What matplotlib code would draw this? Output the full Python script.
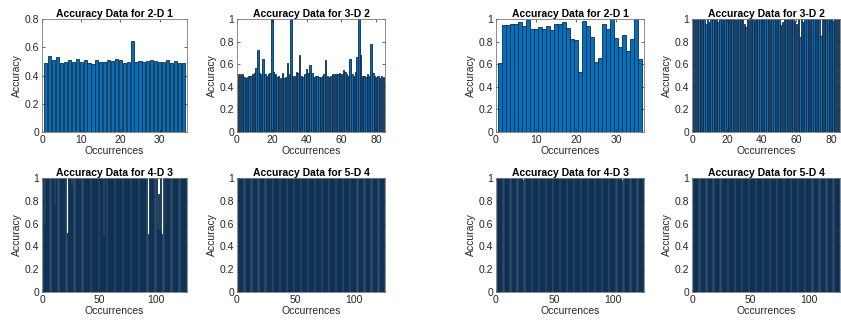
import numpy as np
import matplotlib
matplotlib.use("Agg")
import matplotlib.pyplot as plt

plt.rcParams['font.family'] = ['Liberation Sans', 'DejaVu Sans']

BAR_COLOR = '#0072BD'
EDGE_COLOR = '#0f2a48'
AX_COLOR = '#262626'

# ---- left block ----
left_2d = [0.488, 0.536, 0.512, 0.531, 0.490, 0.495, 0.512, 0.495, 0.517, 0.495,
           0.507, 0.490, 0.479, 0.507, 0.493, 0.493, 0.512, 0.502, 0.517, 0.507,
           0.490, 0.493, 0.645, 0.493, 0.500, 0.493, 0.502, 0.512, 0.502, 0.493,
           0.493, 0.507, 0.486, 0.502, 0.490, 0.488]

left_3d = [0.51, 0.51, 0.51, 0.49, 0.48, 0.49, 0.50, 0.50, 0.51, 0.52,
           0.565, 0.73, 0.52, 0.51, 0.65, 0.51, 0.50, 0.51, 0.52, 1.00,
           0.53, 0.51, 0.49, 0.50, 0.48, 0.52, 0.48, 0.49, 0.61, 0.51,
           1.00, 0.50, 0.50, 0.53, 0.52, 0.68, 0.50, 0.49, 0.51, 0.56,
           0.52, 0.59, 0.52, 0.49, 0.50, 0.50, 0.49, 0.49, 0.50, 0.51,
           0.635, 0.50, 0.49, 0.50, 0.51, 0.51, 0.51, 0.51, 0.52, 0.51,
           0.55, 0.53, 0.51, 0.50, 0.65, 0.51, 0.50, 0.53, 0.66, 1.00,
           0.685, 0.50, 0.50, 0.49, 0.51, 0.50, 0.78, 0.52, 0.50, 0.49,
           0.50, 0.48, 0.50, 0.49]

left_4d = [1.0] * 126
for idx, v in {2: 0.59, 11: 0.76, 22: 0.52, 26: 0.94, 54: 0.49, 93: 0.51,
               101: 0.55, 102: 0.86, 103: 0.54, 105: 0.51}.items():
    left_4d[idx - 1] = v

left_5d = [1.0] * 126

# ---- right block ----
right_2d = [0.61, 0.947, 0.947, 0.956, 0.953, 0.97, 0.94, 0.99, 0.91, 0.91,
            0.926, 0.91, 0.935, 0.90, 0.96, 0.953, 0.97, 0.92, 0.82, 0.81,
            0.53, 0.98, 0.94, 0.845, 0.62, 0.653, 0.96, 0.91, 1.00, 0.83,
            0.75, 0.86, 0.72, 0.82, 1.00, 0.645]

right_3d = [1.0] * 84
for idx, v in {8: 0.96, 10: 0.97, 15: 0.97, 19: 0.99, 30: 0.96, 31: 0.93,
               36: 0.99, 51: 0.95, 52: 0.97, 54: 0.99, 59: 0.98, 60: 0.96,
               62: 0.84, 64: 0.97, 74: 0.85, 81: 0.98}.items():
    right_3d[idx - 1] = v

right_4d = [1.0] * 126
for idx, v in {23: 0.985, 58: 0.99, 108: 0.985}.items():
    right_4d[idx - 1] = v

right_5d = [1.0] * 126

titles = ['Accuracy Data for 2-D 1', 'Accuracy Data for 3-D 2',
          'Accuracy Data for 4-D 3', 'Accuracy Data for 5-D 4']

W, H = 841, 324
fig = plt.figure(figsize=(W / 100, H / 100), dpi=100)

cols = [(42, 187), (237, 385), (496, 644), (692, 840)]
rows = [(19, 132), (178, 292)]


def make_axes(col, row):
    (x0, x1), (y0, y1) = cols[col], rows[row]
    return fig.add_axes([x0 / W, 1 - y1 / H, (x1 - x0) / W, (y1 - y0) / H])


def draw(ax, values, title, xticks, ymax=1.0, yticks=None):
    n = len(values)
    x = np.arange(1, n + 1)
    ax.bar(x, values, width=0.8, color=BAR_COLOR, edgecolor=EDGE_COLOR,
           linewidth=0.6)
    ax.set_xlim(0, n + 1)
    ax.set_ylim(0, ymax)
    ax.set_xticks(xticks)
    if yticks is None:
        yticks = [0, 0.2, 0.4, 0.6, 0.8, 1]
    ax.set_yticks(yticks)
    ax.set_yticklabels(['0' if t == 0 else ('1' if t == 1 else f'{t:g}')
                        for t in yticks])
    ax.set_title(title, fontsize=7.5, fontweight='bold', pad=1.5,
                 color='black')
    ax.set_xlabel('Occurrences', fontsize=7.5, color=AX_COLOR, labelpad=1)
    ax.set_ylabel('Accuracy', fontsize=7.5, color=AX_COLOR, labelpad=2)
    ax.tick_params(direction='in', length=2, width=0.5, labelsize=7.5,
                   colors=AX_COLOR, top=True, right=True, pad=2)
    for sp in ax.spines.values():
        sp.set_color('#7a7a7a')
        sp.set_linewidth(0.6)


groups = [(0, left_2d, left_3d, left_4d, left_5d),
          (2, right_2d, right_3d, right_4d, right_5d)]

for c0, d2, d3, d4, d5 in groups:
    draw(make_axes(c0, 0), d2, titles[0], [0, 10, 20, 30],
         ymax=0.8 if c0 == 0 else 1.0,
         yticks=[0, 0.2, 0.4, 0.6, 0.8] if c0 == 0 else None)
    draw(make_axes(c0 + 1, 0), d3, titles[1], [0, 20, 40, 60, 80])
    draw(make_axes(c0, 1), d4, titles[2], [0, 50, 100])
    draw(make_axes(c0 + 1, 1), d5, titles[3], [0, 50, 100])

fig.savefig('out.png', dpi=100)
